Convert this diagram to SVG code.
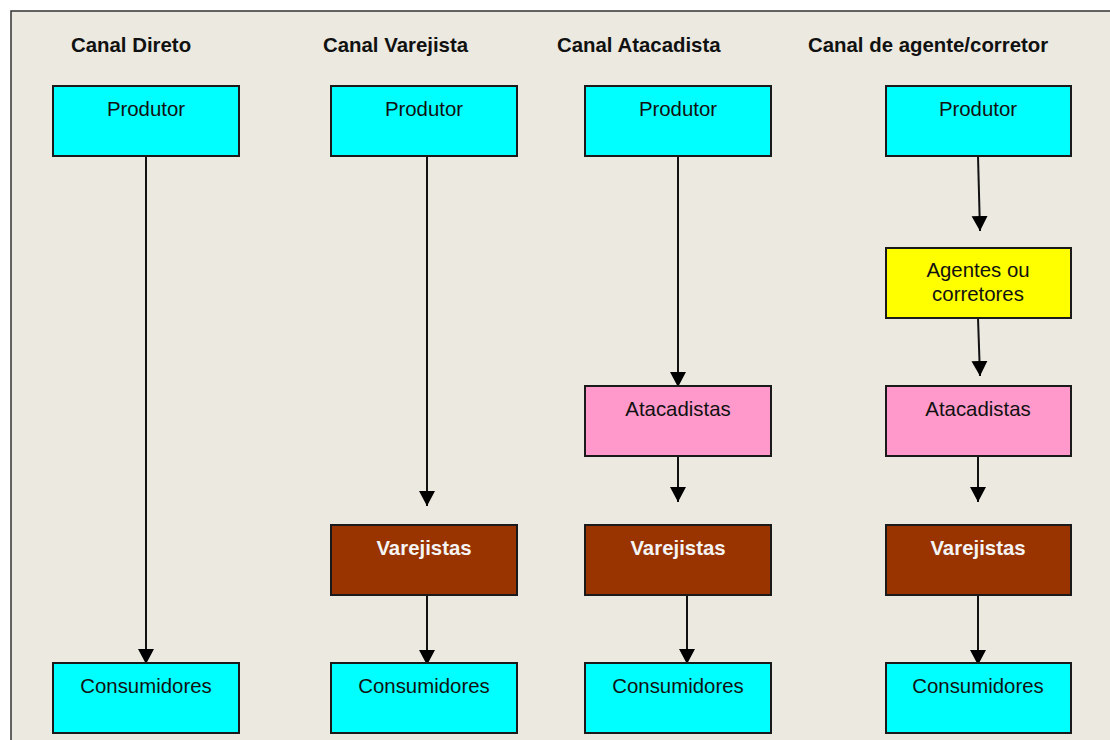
<svg xmlns="http://www.w3.org/2000/svg" width="1110" height="740" viewBox="0 0 1110 740">
  <defs>
    <marker id="arrow" markerUnits="userSpaceOnUse" markerWidth="16" markerHeight="18" viewBox="0 0 16 18" refX="15" refY="9" orient="auto">
      <path d="M0,1 L15,9 L0,17 Z" fill="#000"/>
    </marker>
    <style>
      .box { stroke: #1a1a1a; stroke-width: 2; }
      .cyan { fill: #00FFFF; }
      .pink { fill: #FF99CC; }
      .brown { fill: #993300; }
      .yellow { fill: #FFFF00; }
      .lbl { font-family: "Liberation Sans", Arial, sans-serif; font-size: 20.4px; fill: #111; text-anchor: middle; }
      .lbl-w { font-family: "Liberation Sans", Arial, sans-serif; font-size: 20.4px; font-weight: bold; fill: #f4f4f4; text-anchor: middle; }
      .head { font-family: "Liberation Sans", Arial, sans-serif; font-size: 20.4px; font-weight: bold; fill: #111; }
      .conn { stroke: #111; stroke-width: 2; fill: none; marker-end: url(#arrow); }
    </style>
  </defs>

  <!-- page and frame -->
  <rect x="0" y="0" width="1110" height="740" fill="#ffffff"/>
  <rect x="11" y="11" width="1110" height="740" fill="#ECE9E0"/>
  <path d="M11,740 L11,11 L1110,11" fill="none" stroke="#333" stroke-width="1.5"/>

  <!-- column headings -->
  <g id="headings">
    <text class="head" x="71" y="52">Canal Direto</text>
    <text class="head" x="323" y="52">Canal Varejista</text>
    <text class="head" x="557" y="52">Canal Atacadista</text>
    <text class="head" x="808" y="52">Canal de agente/corretor</text>
  </g>

  <!-- connectors -->
  <g id="connectors">
    <line class="conn" x1="146" y1="156" x2="146" y2="664"/>
    <line class="conn" x1="427" y1="156" x2="427" y2="506"/>
    <line class="conn" x1="427" y1="595" x2="427" y2="665"/>
    <line class="conn" x1="678" y1="156" x2="678" y2="387"/>
    <line class="conn" x1="678" y1="456" x2="678" y2="502"/>
    <line class="conn" x1="687" y1="595" x2="687" y2="664"/>
    <line class="conn" x1="978" y1="156" x2="980" y2="231"/>
    <line class="conn" x1="978" y1="318" x2="980" y2="376"/>
    <line class="conn" x1="978" y1="456" x2="978" y2="502"/>
    <line class="conn" x1="978" y1="595" x2="978" y2="665"/>
  </g>

  <!-- Canal Direto -->
  <g id="direto-produtor">
    <rect class="box cyan" x="53" y="86" width="186" height="70"/>
    <text class="lbl" x="146" y="116">Produtor</text>
  </g>
  <g id="direto-consumidores">
    <rect class="box cyan" x="53" y="663" width="186" height="70"/>
    <text class="lbl" x="146" y="693">Consumidores</text>
  </g>

  <!-- Canal Varejista -->
  <g id="varejista-produtor">
    <rect class="box cyan" x="331" y="86" width="186" height="70"/>
    <text class="lbl" x="424" y="116">Produtor</text>
  </g>
  <g id="varejista-varejistas">
    <rect class="box brown" x="331" y="525" width="186" height="70"/>
    <text class="lbl-w" x="424" y="555">Varejistas</text>
  </g>
  <g id="varejista-consumidores">
    <rect class="box cyan" x="331" y="663" width="186" height="70"/>
    <text class="lbl" x="424" y="693">Consumidores</text>
  </g>

  <!-- Canal Atacadista -->
  <g id="atacadista-produtor">
    <rect class="box cyan" x="585" y="86" width="186" height="70"/>
    <text class="lbl" x="678" y="116">Produtor</text>
  </g>
  <g id="atacadista-atacadistas">
    <rect class="box pink" x="585" y="386" width="186" height="70"/>
    <text class="lbl" x="678" y="416">Atacadistas</text>
  </g>
  <g id="atacadista-varejistas">
    <rect class="box brown" x="585" y="525" width="186" height="70"/>
    <text class="lbl-w" x="678" y="555">Varejistas</text>
  </g>
  <g id="atacadista-consumidores">
    <rect class="box cyan" x="585" y="663" width="186" height="70"/>
    <text class="lbl" x="678" y="693">Consumidores</text>
  </g>

  <!-- Canal de agente/corretor -->
  <g id="agente-produtor">
    <rect class="box cyan" x="886" y="86" width="185" height="70"/>
    <text class="lbl" x="978" y="116">Produtor</text>
  </g>
  <g id="agente-agentes">
    <rect class="box yellow" x="886" y="248" width="185" height="70"/>
    <text class="lbl" x="978" y="277">Agentes ou</text>
    <text class="lbl" x="978" y="301">corretores</text>
  </g>
  <g id="agente-atacadistas">
    <rect class="box pink" x="886" y="386" width="185" height="70"/>
    <text class="lbl" x="978" y="416">Atacadistas</text>
  </g>
  <g id="agente-varejistas">
    <rect class="box brown" x="886" y="525" width="185" height="70"/>
    <text class="lbl-w" x="978" y="555">Varejistas</text>
  </g>
  <g id="agente-consumidores">
    <rect class="box cyan" x="886" y="663" width="185" height="70"/>
    <text class="lbl" x="978" y="693">Consumidores</text>
  </g>
</svg>
